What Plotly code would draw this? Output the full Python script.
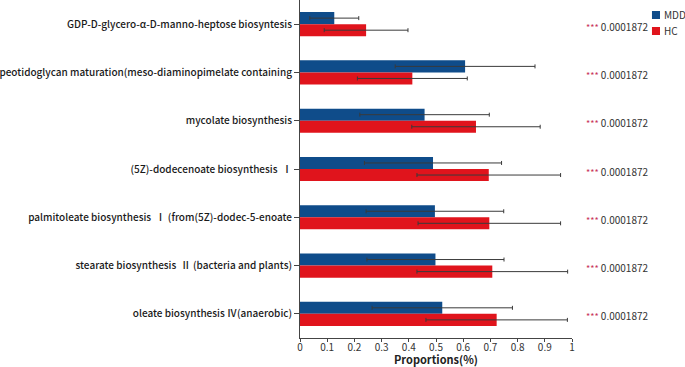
import plotly.graph_objects as go

categories = [
    "GDP-D-glycero-α-D-manno-heptose biosyntesis",
    "peotidoglycan maturation(meso-diaminopimelate containing",
    "mycolate biosynthesis",
    "(5Z)-dodecenoate biosynthesis  Ⅰ",
    "palmitoleate biosynthesis  Ⅰ (from(5Z)-dodec-5-enoate",
    "stearate biosynthesis  Ⅱ (bacteria and plants)",
    "oleate biosynthesis Ⅳ(anaerobic)",
]
mdd_mean = [0.126, 0.607, 0.458, 0.489, 0.496, 0.498, 0.523]
mdd_err = [0.090, 0.257, 0.238, 0.252, 0.253, 0.252, 0.258]
hc_mean = [0.243, 0.413, 0.647, 0.694, 0.696, 0.707, 0.723]
hc_err = [0.154, 0.202, 0.236, 0.264, 0.262, 0.277, 0.260]
p_values = ["0.0001872"] * 7
stars = ["***"] * 7
x_ticks = [0, 0.1, 0.2, 0.3, 0.4, 0.5, 0.6, 0.7, 0.8, 0.9, 1]
series_names = ["MDD", "HC"]

blue = "#0F4C8A"
red = "#E0141C"
font_fam = "Noto Sans CJK SC, Noto Sans, sans-serif"

fig = go.Figure()
fig.add_trace(go.Bar(
    y=categories, x=mdd_mean, orientation="h", name=series_names[0],
    marker=dict(color=blue, line=dict(width=0)),
    error_x=dict(type="data", array=mdd_err, color="#3a3a3a", thickness=1, width=2),
))
fig.add_trace(go.Bar(
    y=categories, x=hc_mean, orientation="h", name=series_names[1],
    marker=dict(color=red, line=dict(width=0)),
    error_x=dict(type="data", array=hc_err, color="#3a3a3a", thickness=1, width=2),
))

for c, s, p in zip(categories, stars, p_values):
    fig.add_annotation(
        x=1.045, xref="paper", y=c, yref="y", xanchor="left", yanchor="middle", yshift=-2,
        text=f'<span style="color:#C8345A;font-size:9px">{s}</span> {p}', showarrow=False,
        font=dict(size=10, color="#333333", family=font_fam),
    )

# legend (manual, small square swatches)
for i, (nm, col) in enumerate(zip(series_names, [blue, red])):
    y0 = 0.9675 - i * 0.0473
    fig.add_shape(type="rect", xref="paper", yref="paper",
                  x0=1.294, x1=1.3235, y0=y0 - 0.0237, y1=y0,
                  fillcolor=col, line=dict(width=0))
    fig.add_annotation(x=1.331, xref="paper", y=y0 - 0.0118, yref="paper",
                       xanchor="left", yanchor="middle", text=nm, showarrow=False,
                       font=dict(size=10, color="#333333", family=font_fam))

fig.add_annotation(x=0.5, xref="paper", y=-0.062, yref="paper",
                   xanchor="center", yanchor="middle", borderpad=0,
                   text="<b>Proportions(%)</b>",
                   showarrow=False, font=dict(size=11, color="#222222", family=font_fam))

fig.update_layout(
    width=685, height=367,
    margin=dict(l=300, r=113, t=0, b=29, autoexpand=False),
    paper_bgcolor="white", plot_bgcolor="white",
    barmode="group", bargap=0.5, bargroupgap=0,
    font=dict(family=font_fam, color="#222222"),
    showlegend=False,
    xaxis=dict(
        range=[0, 1], tickvals=x_ticks, ticktext=[f"{v:g}" for v in x_ticks],
        showline=True, linecolor="#444444", linewidth=1,
        ticks="outside", ticklen=3, tickcolor="#444444",
        ticklabelstandoff=-3,
        showgrid=False, zeroline=False,
        tickfont=dict(size=10, color="#333333"),
    ),
    yaxis=dict(
        autorange="reversed", showline=True, linecolor="#444444", linewidth=1,
        ticks="outside", ticklen=5, tickcolor="#444444",
        showgrid=False, zeroline=False,
        tickfont=dict(size=10, color="#1a1a1a", weight=500),
    ),
)

fig.write_html("out.html", config={"displayModeBar": False},
               post_script="document.body.style.margin='0';")
